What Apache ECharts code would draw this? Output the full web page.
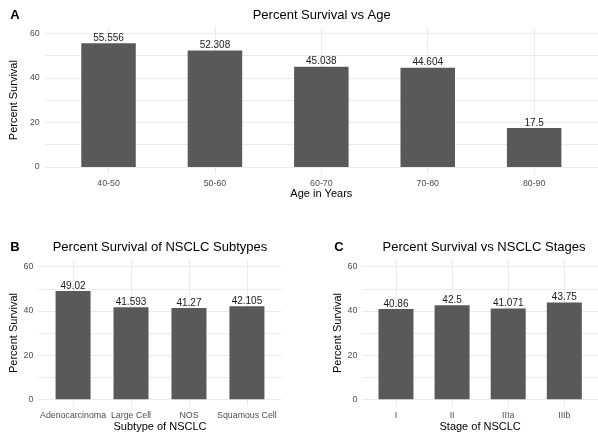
<!DOCTYPE html>
<html>
<head>
<meta charset="utf-8">
<script src="https://cdn.jsdelivr.net/npm/echarts@6/dist/echarts.min.js"></script>
<style>
html,body{margin:0;padding:0;background:#fff;}
#chart{width:598px;height:433px;}
</style>
</head>
<body>
<div id="chart"></div>
<script>
// ---- data ----
const ageCategories = ['40-50', '50-60', '60-70', '70-80', '80-90'];
const ageSurvival = [55.556, 52.308, 45.038, 44.604, 17.5];

const subtypeCategories = ['Adenocarcinoma', 'Large Cell', 'NOS', 'Squamous Cell'];
const subtypeSurvival = [49.02, 41.593, 41.27, 42.105];

const stageCategories = ['I', 'II', 'IIIa', 'IIIb'];
const stageSurvival = [40.86, 42.5, 41.071, 43.75];

const yTickLabels = [0, 20, 40, 60];
const yGridValues = [0, 10, 20, 30, 40, 50, 60];

// ---- styling ----
const FONT = '"Liberation Sans", Arial, Helvetica, sans-serif';
const GRID_COLOR = '#ebebeb';
const BAR_COLOR = '#595959';
const TICK_COLOR = '#4d4d4d';

const panels = [
  { cats: ageCategories, vals: ageSurvival, title: 'Percent Survival vs Age', tag: 'A',
    xName: 'Age in Years', left: 38.3, top: 26.7, width: 566.8, height: 146.9, barWidth: 54.5,
    titleY: 15, tagX: 15 },
  { cats: subtypeCategories, vals: subtypeSurvival, title: 'Percent Survival of NSCLC Subtypes', tag: 'B',
    xName: 'Subtype of NSCLC', left: 38.3, top: 260, width: 243.4, height: 146.7, barWidth: 35,
    titleY: 247, tagX: 15 },
  { cats: stageCategories, vals: stageSurvival, title: 'Percent Survival vs NSCLC Stages', tag: 'C',
    xName: 'Stage of NSCLC', left: 362.3, top: 260, width: 243.4, height: 146.7, barWidth: 35,
    titleY: 247, tagX: 339 }
];

const grid = [], xAxis = [], yAxis = [], series = [], graphic = [];

panels.forEach((p, i) => {
  const n = p.cats.length;
  const idx = p.cats.map((c, k) => k + 1);
  grid.push({ left: p.left, top: p.top, width: p.width, height: p.height, containLabel: false });
  xAxis.push({
    gridIndex: i, type: 'value', min: 0.4, max: n + 0.6,
    name: p.xName, nameLocation: 'middle', nameGap: 15,
    nameTextStyle: { fontFamily: FONT, fontSize: 11, color: '#000' },
    axisLine: { show: false },
    axisTick: { show: false, customValues: idx },
    axisLabel: { customValues: idx, margin: 5, fontFamily: FONT, fontSize: 8.8, color: TICK_COLOR,
      formatter: v => p.cats[Math.round(v) - 1] || '' },
    splitLine: { show: true, lineStyle: { color: GRID_COLOR, width: 1 } }
  });
  yAxis.push({
    gridIndex: i, type: 'value', min: -3, max: 63,
    name: 'Percent Survival', nameLocation: 'middle', nameGap: 19, nameRotate: 90,
    nameTextStyle: { fontFamily: FONT, fontSize: 11, color: '#000' },
    axisLine: { show: false },
    axisTick: { show: false, customValues: yGridValues },
    axisLabel: { customValues: yTickLabels, margin: 5, fontFamily: FONT, fontSize: 8.8, color: TICK_COLOR },
    splitLine: { show: true, lineStyle: { color: GRID_COLOR, width: 1 } }
  });
  series.push({
    type: 'bar', xAxisIndex: i, yAxisIndex: i,
    data: p.vals.map((v, k) => [k + 1, v]),
    barWidth: p.barWidth,
    itemStyle: { color: BAR_COLOR },
    label: { show: true, position: 'top', distance: 0, offset: [0, 0], fontFamily: FONT, fontSize: 10, color: '#1a1a1a',
      formatter: q => String(q.value[1]) },
    silent: true
  });
  graphic.push({
    type: 'text', style: { text: p.title, x: p.left + p.width / 2, y: p.titleY,
      align: 'center', verticalAlign: 'middle', font: '13px ' + FONT, fill: '#000' }
  });
  graphic.push({
    type: 'text', style: { text: p.tag, x: p.tagX, y: p.titleY,
      align: 'center', verticalAlign: 'middle', font: 'bold 13px ' + FONT, fill: '#000' }
  });
});

const chart = echarts.init(document.getElementById('chart'), null, { renderer: 'canvas' });
chart.setOption({
  backgroundColor: '#fff',
  animation: false,
  grid, xAxis, yAxis, series, graphic
});
</script>
</body>
</html>
